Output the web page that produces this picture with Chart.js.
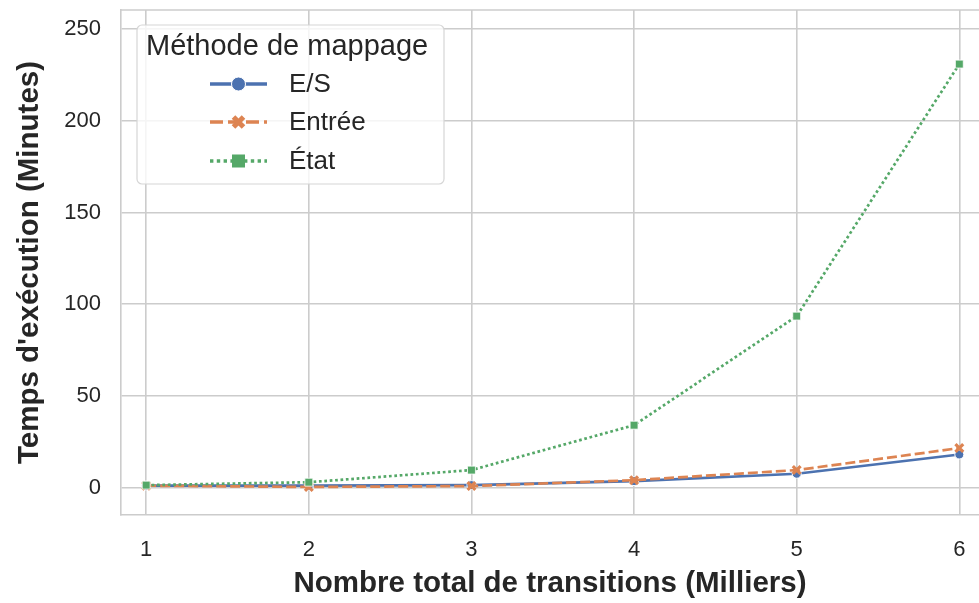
<!DOCTYPE html>
<html>
<head>
<meta charset="utf-8">
<script src="https://cdn.jsdelivr.net/npm/chart.js@4.4.1/dist/chart.umd.min.js"></script>
<style>
  html, body { margin: 0; padding: 0; background: #ffffff; overflow: hidden; }
  #wrap { width: 979px; height: 603px; position: relative; }
</style>
</head>
<body>
<div id="wrap"><canvas id="c" width="979" height="603"></canvas></div>
<script>
// ---- data ----
const transitions = [1, 2, 3, 4, 5, 6];           // Nombre total de transitions (Milliers)
const valuesES     = [1.0, 1.0, 1.3, 3.5, 7.5, 18.0];
const valuesEntree = [1.0, 0.3, 0.8, 4.0, 9.5, 21.5];
const valuesEtat   = [1.3, 2.9, 9.5, 34.0, 93.5, 231.0];
const seriesNames  = ['E/S', 'Entrée', 'État'];
const yTicks       = [0, 50, 100, 150, 200, 250];

const FONT = "'Liberation Sans', Arial, sans-serif";
const TEXT = '#262626';
const GRID = '#cccccc';
const COLORS = ['#4c72b0', '#dd8452', '#55a868'];

function pts(vals) { return transitions.map((x, i) => ({ x: x, y: vals[i] })); }

const datasets = [
  { label: seriesNames[0], data: pts(valuesES), borderColor: COLORS[0], backgroundColor: COLORS[0],
    borderWidth: 2.7, pointStyle: 'circle', pointRadius: 4.5, pointBorderColor: '#ffffff', pointBorderWidth: 1,
    borderDash: [], order: 3, tension: 0 },
  { label: seriesNames[1], data: pts(valuesEntree), borderColor: COLORS[1], backgroundColor: COLORS[1],
    borderWidth: 2.7, pointStyle: 'crossRot', pointRadius: 5.5, pointBorderColor: COLORS[1], pointBorderWidth: 3.2,
    borderDash: [10, 4], order: 2, tension: 0 },
  { label: seriesNames[2], data: pts(valuesEtat), borderColor: COLORS[2], backgroundColor: COLORS[2],
    borderWidth: 2.7, pointStyle: 'rect', pointRadius: 5.6, pointBorderColor: '#ffffff', pointBorderWidth: 0.8,
    borderDash: [2.7, 2.7], order: 1, tension: 0 }
];

// legend drawn inside the plot area, seaborn style (line + marker)
const legendPlugin = {
  id: 'sbLegend',
  afterDatasetsDraw(chart) {
    const ctx = chart.ctx;
    const bx = 137, by = 25, bw = 307, bh = 159, r = 5;
    ctx.save();
    ctx.beginPath();
    ctx.moveTo(bx + r, by);
    ctx.arcTo(bx + bw, by, bx + bw, by + bh, r);
    ctx.arcTo(bx + bw, by + bh, bx, by + bh, r);
    ctx.arcTo(bx, by + bh, bx, by, r);
    ctx.arcTo(bx, by, bx + bw, by, r);
    ctx.closePath();
    ctx.fillStyle = 'rgba(255,255,255,0.8)';
    ctx.fill();
    ctx.strokeStyle = '#d6d6d6';
    ctx.lineWidth = 1.2;
    ctx.stroke();

    ctx.fillStyle = TEXT;
    ctx.textBaseline = 'middle';
    ctx.textAlign = 'left';
    ctx.font = '29px ' + FONT;
    ctx.fillText('Méthode de mappage', 146, 47);

    const rows = [84, 122, 161];
    chart.data.datasets.forEach((ds, i) => {
      const y = rows[i];
      ctx.strokeStyle = ds.borderColor;
      ctx.lineWidth = 3.4;
      ctx.setLineDash(i === 1 ? [13, 5] : (i === 2 ? [3.4, 3.4] : []));
      ctx.beginPath();
      ctx.moveTo(210, y);
      ctx.lineTo(267, y);
      ctx.stroke();
      ctx.setLineDash([]);
      const cx = 238.5;
      if (i === 0) {
        ctx.beginPath();
        ctx.arc(cx, y, 7, 0, Math.PI * 2);
        ctx.fillStyle = ds.borderColor; ctx.fill();
        ctx.strokeStyle = '#fff'; ctx.lineWidth = 1; ctx.stroke();
      } else if (i === 1) {
        ctx.strokeStyle = ds.borderColor; ctx.lineWidth = 5;
        ctx.beginPath();
        ctx.moveTo(cx - 5, y - 5); ctx.lineTo(cx + 5, y + 5);
        ctx.moveTo(cx + 5, y - 5); ctx.lineTo(cx - 5, y + 5);
        ctx.stroke();
      } else {
        ctx.fillStyle = ds.borderColor;
        ctx.fillRect(cx - 6.5, y - 6.5, 13, 13);
      }
      ctx.fillStyle = TEXT;
      ctx.font = '26px ' + FONT;
      ctx.fillText(ds.label, 289, y + 1);
    });
    ctx.restore();
  }
};

const frameTop = {
  id: 'frameTop',
  beforeDatasetsDraw(chart) {
    const { ctx, chartArea: a } = chart;
    ctx.save();
    ctx.strokeStyle = GRID;
    ctx.lineWidth = 1.6;
    ctx.beginPath();
    ctx.moveTo(a.left, a.top);
    ctx.lineTo(a.right, a.top);
    ctx.stroke();
    ctx.restore();
  }
};

new Chart(document.getElementById('c'), {
  type: 'line',
  data: { datasets: datasets },
  plugins: [frameTop, legendPlugin],
  options: {
    responsive: false,
    animation: false,
    layout: { autoPadding: false, padding: { top: 10, right: 0, left: 0, bottom: 0 } },
    plugins: { legend: { display: false }, tooltip: { enabled: false } },
    scales: {
      x: {
        type: 'linear',
        min: 0.845, max: 6.121,
        afterBuildTicks(scale) { scale.ticks = transitions.map(v => ({ value: v })); },
        afterFit(scale) { scale.height = 88; scale.paddingLeft = 0; scale.paddingRight = 0; },
        grid: { color: GRID, lineWidth: 1.6, drawTicks: false },
        border: { color: GRID, width: 1.6 },
        ticks: { font: { family: FONT, size: 22 }, color: TEXT, padding: 22, callback: v => String(v) },
        title: { display: true, text: 'Nombre total de transitions (Milliers)', color: TEXT,
                 font: { family: FONT, size: 29.5, weight: 'bold' }, padding: { top: 4, bottom: 1 } }
      },
      y: {
        type: 'linear',
        min: -15, max: 260.5,
        afterBuildTicks(scale) { scale.ticks = yTicks.map(v => ({ value: v })); },
        afterFit(scale) { scale.width = 121; scale.paddingTop = 0; scale.paddingBottom = 0; },
        grid: { color: GRID, lineWidth: 1.6, drawTicks: false },
        border: { color: GRID, width: 1.6 },
        ticks: { font: { family: FONT, size: 22 }, color: TEXT, padding: 20 },
        title: { display: true, text: "Temps d'exécution (Minutes)", color: TEXT,
                 font: { family: FONT, size: 29.5, weight: 'bold' }, padding: { top: 12, bottom: 4 } }
      }
    }
  }
});
</script>
</body>
</html>
